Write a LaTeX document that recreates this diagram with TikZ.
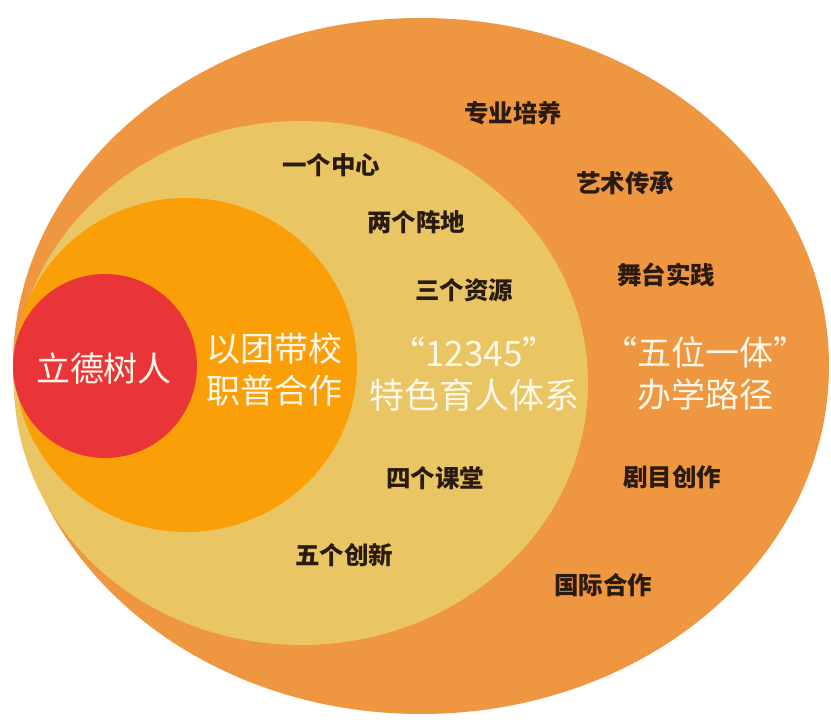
\documentclass[tikz,border=0pt]{standalone}
\usepackage{fontspec}
\newfontfamily\cjk{Noto Sans CJK SC}
\definecolor{outerc}{HTML}{EE9640}
\definecolor{lightc}{HTML}{E9C663}
\definecolor{orangec}{HTML}{FB9F08}
\definecolor{redc}{HTML}{EA3538}
\definecolor{darkt}{HTML}{2A1A10}
\definecolor{whitet}{HTML}{FFF8EA}
\tikzset{
  small/.style={font=\cjk\bfseries\fontsize{24.5}{28}\selectfont, text=darkt, inner sep=0pt},
  big/.style={font=\cjk\fontsize{34}{42}\selectfont, text=whitet, align=center, inner sep=0pt},
}
\begin{document}
\begin{tikzpicture}[x=1pt,y=-1pt]
\useasboundingbox (0,0) rectangle (831,722);
\fill[white] (0,0) rectangle (831,722);
\fill[outerc] (421,366) ellipse [x radius=408, y radius=348];
\fill[lightc] (301,383) ellipse [x radius=287, y radius=262];
\fill[orangec] (186,365) ellipse [x radius=171, y radius=167];
\fill[redc] (105,366) circle [radius=92];
\node[big] (a) at (104,368) {立德树人};
\node[big] (b) at (274,369) {以团带校\\职普合作};
\node[big, font=\cjk\fontsize{35}{42}\selectfont] (c) at (474,374) {“12345”\\特色育人体系};
\node[big] (d) at (705,374) {“五位一体”\\办学路径};
\node[small] (s1) at (513,113) {专业培养};
\node[small] (s2) at (331,165) {一个中心};
\node[small] (s3) at (416,222) {两个阵地};
\node[small] (s4) at (464,290) {三个资源};
\node[small] (s5) at (625,183) {艺术传承};
\node[small] (s6) at (666,275) {舞台实践};
\node[small] (s7) at (435,478) {四个课堂};
\node[small] (s8) at (672,477) {剧目创作};
\node[small] (s9) at (344,555) {五个创新};
\node[small] (s10) at (603,585) {国际合作};
\end{tikzpicture}
\end{document}
